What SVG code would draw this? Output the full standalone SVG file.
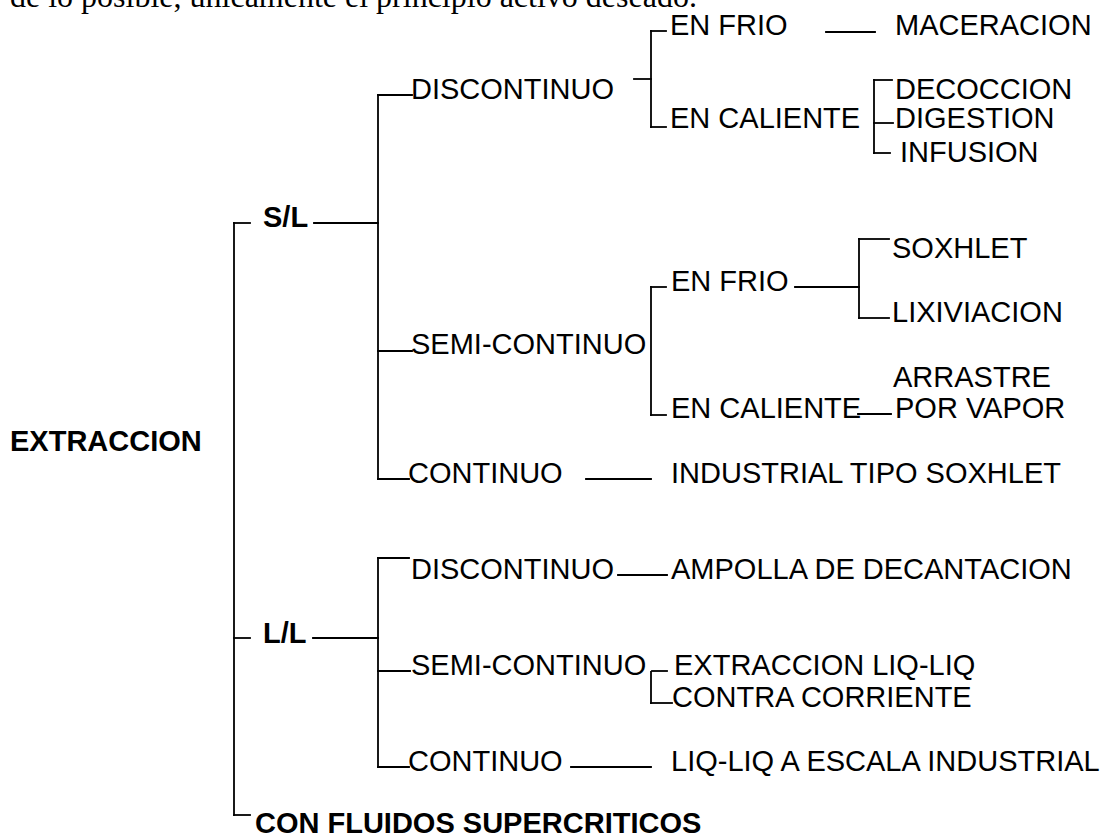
<svg xmlns="http://www.w3.org/2000/svg" width="1112" height="836" viewBox="0 0 1112 836">
<style>
.t{font-family:"Liberation Sans",Arial,sans-serif;font-size:29px;fill:#000}
.b{font-weight:bold}
.s{font-family:"Liberation Serif","Times New Roman",serif;font-size:32px;fill:#000}
.c line{stroke:#000;stroke-width:1.8;stroke-linecap:square}
</style>
<rect width="1112" height="836" fill="#fff"/>
<text class="s" x="10" y="7">de lo posible, únicamente el principio activo deseado.</text>
<g id="connectors" class="c">
<line x1="234" y1="223" x2="234" y2="815"/>
<line x1="234" y1="223" x2="250" y2="223"/>
<line x1="234" y1="638" x2="250" y2="638"/>
<line x1="234" y1="815" x2="250" y2="815"/>
<line x1="314" y1="223" x2="378" y2="223"/>
<line x1="378" y1="95" x2="378" y2="479"/>
<line x1="378" y1="95" x2="412" y2="95"/>
<line x1="378" y1="351" x2="412" y2="351"/>
<line x1="378" y1="479" x2="409" y2="479"/>
<line x1="634" y1="79" x2="651" y2="79"/>
<line x1="651" y1="31" x2="651" y2="127"/>
<line x1="651" y1="31" x2="666" y2="31"/>
<line x1="651" y1="127" x2="666" y2="127"/>
<line x1="826" y1="32" x2="875" y2="32"/>
<line x1="874" y1="80" x2="874" y2="153"/>
<line x1="874" y1="80" x2="892" y2="80"/>
<line x1="874" y1="123" x2="893" y2="123"/>
<line x1="874" y1="153" x2="890" y2="153"/>
<line x1="651" y1="287" x2="651" y2="415"/>
<line x1="651" y1="287" x2="666" y2="287"/>
<line x1="651" y1="415" x2="666" y2="415"/>
<line x1="795" y1="287" x2="859" y2="287"/>
<line x1="859" y1="239" x2="859" y2="318"/>
<line x1="859" y1="239" x2="889" y2="239"/>
<line x1="859" y1="318" x2="889" y2="318"/>
<line x1="858" y1="414" x2="891" y2="414"/>
<line x1="586" y1="479" x2="651" y2="479"/>
<line x1="313" y1="638" x2="378" y2="638"/>
<line x1="378" y1="558" x2="378" y2="767"/>
<line x1="378" y1="558" x2="409" y2="558"/>
<line x1="378" y1="671" x2="410" y2="671"/>
<line x1="378" y1="767" x2="409" y2="767"/>
<line x1="618" y1="575" x2="667" y2="575"/>
<line x1="652" y1="671" x2="667" y2="671"/>
<line x1="651" y1="672" x2="651" y2="703"/>
<line x1="651" y1="703" x2="672" y2="703"/>
<line x1="571" y1="767" x2="651" y2="767"/>
</g>
<g id="n-extraccion"><text class="t b" x="10" y="451">EXTRACCION</text></g>
<g id="n-sl"><text class="t b" x="263" y="227">S/L</text></g>
<g id="n-ll"><text class="t b" x="263" y="643">L/L</text></g>
<g id="n-fluidos"><text class="t b" x="255" y="833">CON FLUIDOS SUPERCRITICOS</text></g>
<g id="n-sl-disc"><text class="t" x="411" y="99">DISCONTINUO</text></g>
<g id="n-sl-disc-frio"><text class="t" x="670" y="35">EN FRIO</text></g>
<g id="n-maceracion"><text class="t" x="895" y="35">MACERACION</text></g>
<g id="n-sl-disc-cal"><text class="t" x="670" y="128">EN CALIENTE</text></g>
<g id="n-decoccion"><text class="t" x="895" y="99">DECOCCION</text></g>
<g id="n-digestion"><text class="t" x="895" y="128">DIGESTION</text></g>
<g id="n-infusion"><text class="t" x="900" y="162">INFUSION</text></g>
<g id="n-sl-semi"><text class="t" x="411" y="354">SEMI-CONTINUO</text></g>
<g id="n-sl-semi-frio"><text class="t" x="671" y="291">EN FRIO</text></g>
<g id="n-soxhlet"><text class="t" x="892" y="258">SOXHLET</text></g>
<g id="n-lixiviacion"><text class="t" x="892" y="322">LIXIVIACION</text></g>
<g id="n-sl-semi-cal"><text class="t" x="671" y="418">EN CALIENTE</text></g>
<g id="n-arrastre"><text class="t" x="893" y="387">ARRASTRE</text><text class="t" x="895" y="418">POR VAPOR</text></g>
<g id="n-sl-cont"><text class="t" x="408" y="483">CONTINUO</text></g>
<g id="n-ind-soxhlet"><text class="t" x="671" y="483">INDUSTRIAL TIPO SOXHLET</text></g>
<g id="n-ll-disc"><text class="t" x="411" y="579">DISCONTINUO</text></g>
<g id="n-ampolla"><text class="t" x="671" y="579">AMPOLLA DE DECANTACION</text></g>
<g id="n-ll-semi"><text class="t" x="411" y="675">SEMI-CONTINUO</text></g>
<g id="n-liqliq"><text class="t" x="674" y="675">EXTRACCION LIQ-LIQ</text><text class="t" x="672" y="707">CONTRA CORRIENTE</text></g>
<g id="n-ll-cont"><text class="t" x="408" y="771">CONTINUO</text></g>
<g id="n-escala"><text class="t" x="671" y="771">LIQ-LIQ A ESCALA INDUSTRIAL</text></g>
</svg>
